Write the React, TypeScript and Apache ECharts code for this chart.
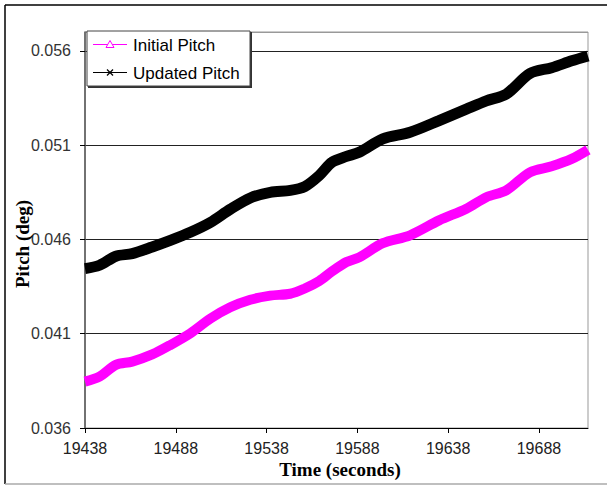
import React, { useEffect, useRef } from 'react';
import * as echarts from 'echarts';

// Time origin of the axis and pitch origin of the axis
const T0 = 19438;
const Y0 = 0.036;
const xMaxValue = 19715;
const yMaxValue = 0.057;

const times = [
  19438, 19446, 19455, 19464, 19475, 19485, 19496, 19507, 19518, 19529, 19540,
  19551, 19559, 19567, 19574, 19582, 19589, 19602, 19617, 19633, 19648, 19659,
  19670, 19683, 19695, 19706, 19715,
];

const initialPitch = [
  0.03846, 0.03873, 0.03935, 0.03952, 0.0399, 0.0404, 0.04102, 0.0418, 0.0424,
  0.0428, 0.04302, 0.04312, 0.0434, 0.0438, 0.0443, 0.0448, 0.04505, 0.0458,
  0.04622, 0.04701, 0.04763, 0.04824, 0.0486, 0.04956, 0.04988, 0.05027, 0.05075,
];

const updatedPitch = [
  0.04445, 0.04463, 0.04511, 0.04525, 0.0456, 0.04595, 0.04638, 0.0469, 0.0476,
  0.0482, 0.0485, 0.0486, 0.0488, 0.04939, 0.05009, 0.0504, 0.05062, 0.05133,
  0.05168, 0.0523, 0.05291, 0.05335, 0.05371, 0.0548, 0.05511, 0.05547, 0.05573,
];

const xTickLabels = [19438, 19488, 19538, 19588, 19638, 19688];
const yTickLabels = [0.036, 0.041, 0.046, 0.051, 0.056];

const seriesNames = ['Initial Pitch', 'Updated Pitch'];
const seriesColors = ['#FF00FF', '#000000'];

export default function App() {
  const ref = useRef<HTMLDivElement>(null);

  useEffect(() => {
    const chart = echarts.init(ref.current!, null, { renderer: 'svg' });
    const toPts = (vals: number[]) =>
      times.map((t, i) => [t - T0, +(vals[i] - Y0).toFixed(6)]);

    const sansFont = '"Liberation Sans", Arial, sans-serif';
    const serifFont = '"Liberation Serif", "Times New Roman", serif';

    chart.setOption({
      animation: false,
      backgroundColor: '#ffffff',
      grid: {
        left: 85,
        right: 19,
        top: 32,
        bottom: 58,
        show: true,
        borderColor: '#999999',
        borderWidth: 1,
        containLabel: false,
      },
      xAxis: {
        type: 'value',
        min: 0,
        max: xMaxValue - T0,
        interval: 50,
        axisLine: { show: true, lineStyle: { color: '#000', width: 1 } },
        axisTick: {
          show: true,
          inside: false,
          length: 5,
          lineStyle: { color: '#000' },
          customValues: xTickLabels.map((v) => v - T0),
        },
        axisLabel: {
          show: true,
          margin: 12,
          color: '#222',
          fontSize: 16,
          fontFamily: sansFont,
          customValues: xTickLabels.map((v) => v - T0),
          formatter: (v: number) => String(Math.round(v + T0)),
        },
        splitLine: { show: false },
      },
      yAxis: {
        type: 'value',
        min: 0,
        max: +(yMaxValue - Y0).toFixed(6),
        interval: 0.005,
        axisLine: { show: true, lineStyle: { color: '#555', width: 1.5 } },
        axisTick: {
          show: true,
          inside: false,
          length: 5,
          lineStyle: { color: '#000' },
          customValues: yTickLabels.map((v) => +(v - Y0).toFixed(6)),
        },
        axisLabel: {
          show: true,
          margin: 14,
          color: '#333',
          fontSize: 16,
          fontFamily: sansFont,
          customValues: yTickLabels.map((v) => +(v - Y0).toFixed(6)),
          formatter: (v: number) => (v + Y0).toFixed(3),
        },
        splitLine: { show: true, lineStyle: { color: '#222', width: 1 } },
      },
      series: [
        {
          name: seriesNames[0],
          type: 'line',
          data: toPts(initialPitch),
          showSymbol: false,
          smooth: 0.3,
          clip: false,
          lineStyle: { color: seriesColors[0], width: 10 },
          itemStyle: { color: seriesColors[0] },
          z: 3,
        },
        {
          name: seriesNames[1],
          type: 'line',
          data: toPts(updatedPitch),
          showSymbol: false,
          smooth: 0.3,
          clip: false,
          lineStyle: { color: seriesColors[1], width: 11 },
          itemStyle: { color: seriesColors[1] },
          z: 3,
        },
      ],
      graphic: [
        // outer frame
        { type: 'line', shape: { x1: 5, y1: 5, x2: 607, y2: 5 }, style: { stroke: '#000', lineWidth: 1.5 }, z: 100 },
        { type: 'line', shape: { x1: 5, y1: 5, x2: 5, y2: 484 }, style: { stroke: '#000', lineWidth: 1.5 }, z: 100 },
        { type: 'line', shape: { x1: 5, y1: 484, x2: 607, y2: 484 }, style: { stroke: '#aaaaaa', lineWidth: 1.5 }, z: 100 },
        // top border of plot area
        { type: 'line', shape: { x1: 86, y1: 32.5, x2: 588, y2: 32.5 }, style: { stroke: '#999999', lineWidth: 1 }, z: 1 },
        // axis titles
        {
          type: 'text',
          x: 22,
          y: 244,
          rotation: Math.PI / 2,
          style: {
            text: 'Pitch (deg)',
            font: `bold 19px ${serifFont}`,
            fill: '#000',
            align: 'center',
            verticalAlign: 'middle',
          },
          z: 100,
        },
        {
          type: 'text',
          x: 340,
          y: 469,
          style: {
            text: 'Time (seconds)',
            font: `bold 19px ${serifFont}`,
            fill: '#000',
            align: 'center',
            verticalAlign: 'middle',
          },
          z: 100,
        },
        // legend
        {
          type: 'group',
          z: 100,
          children: [
            { type: 'rect', shape: { x: 88, y: 32, width: 164, height: 56 }, style: { fill: '#333' }, z: 100 },
            { type: 'rect', shape: { x: 87, y: 31, width: 163, height: 55 }, style: { fill: '#fff', stroke: '#444', lineWidth: 1 }, z: 101 },
            { type: 'line', shape: { x1: 93, y1: 44.5, x2: 127, y2: 44.5 }, style: { stroke: seriesColors[0], lineWidth: 1 }, z: 102 },
            {
              type: 'polygon',
              shape: { points: [[110, 40.5], [106, 47.5], [114, 47.5]] },
              style: { fill: '#fff', stroke: seriesColors[0], lineWidth: 1 },
              z: 103,
            },
            {
              type: 'text',
              x: 133,
              y: 45,
              style: { text: seriesNames[0], font: `17px ${sansFont}`, fill: '#000', verticalAlign: 'middle' },
              z: 103,
            },
            { type: 'line', shape: { x1: 93, y1: 72.5, x2: 127, y2: 72.5 }, style: { stroke: seriesColors[1], lineWidth: 1 }, z: 102 },
            { type: 'line', shape: { x1: 107, y1: 69.5, x2: 113, y2: 75.5 }, style: { stroke: '#000', lineWidth: 1.2 }, z: 103 },
            { type: 'line', shape: { x1: 107, y1: 75.5, x2: 113, y2: 69.5 }, style: { stroke: '#000', lineWidth: 1.2 }, z: 103 },
            {
              type: 'text',
              x: 133,
              y: 73,
              style: { text: seriesNames[1], font: `17px ${sansFont}`, fill: '#000', verticalAlign: 'middle' },
              z: 103,
            },
          ],
        },
      ],
    });

    return () => chart.dispose();
  }, []);

  return (
    <div
      ref={ref}
      style={{ position: 'absolute', left: 0, top: 0, width: 607, height: 486, background: '#fff' }}
    />
  );
}
